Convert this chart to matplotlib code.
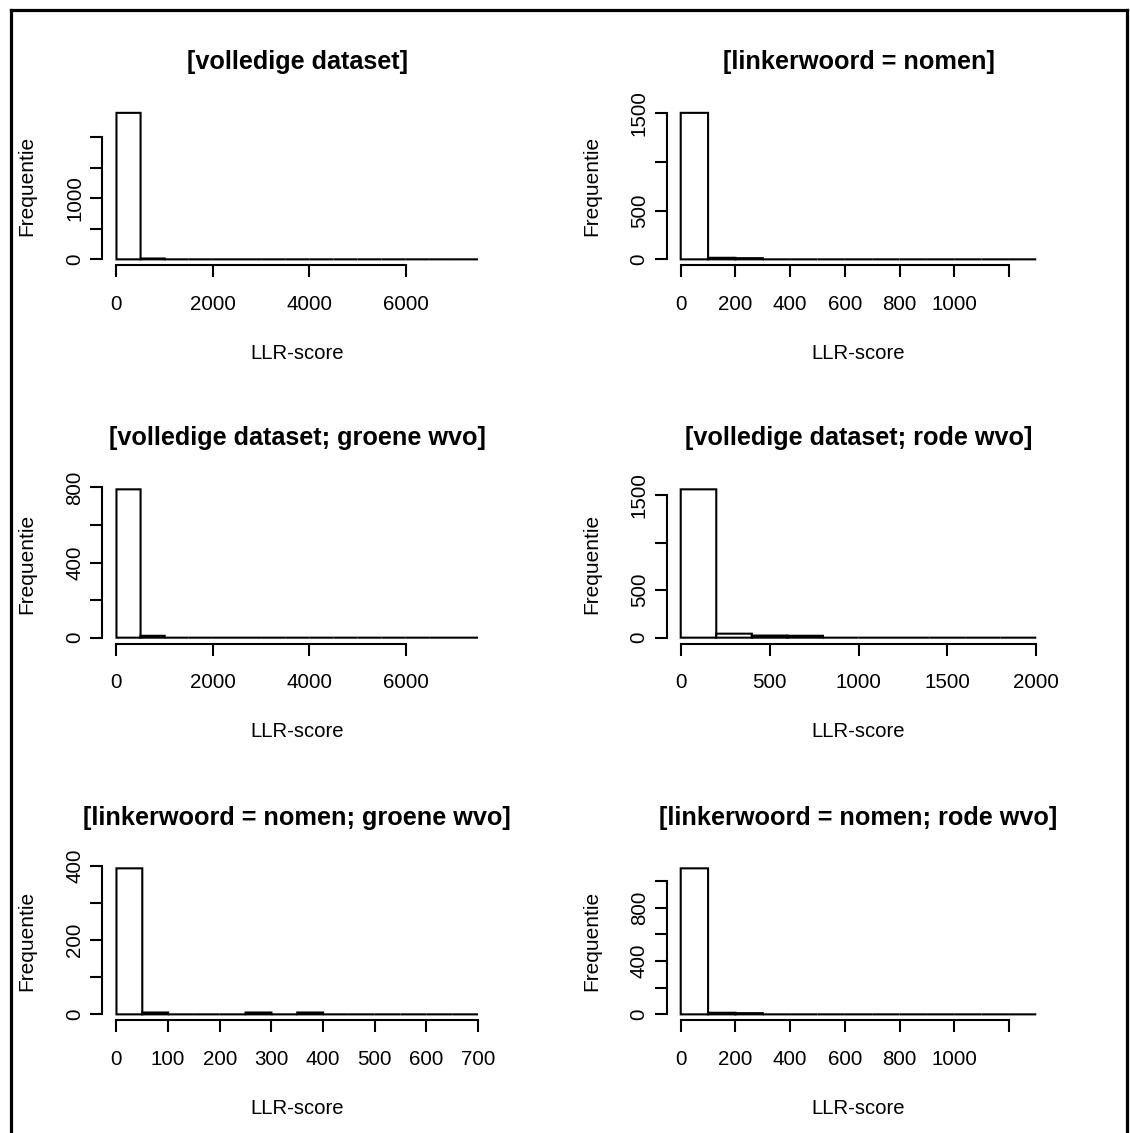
import matplotlib
matplotlib.use("Agg")
import matplotlib.pyplot as plt
from matplotlib.lines import Line2D

plt.rcParams['font.family'] = ['Liberation Sans', 'DejaVu Sans']

# Panel titles (row-major, 3 rows x 2 columns)
titles = [
    "[volledige dataset]",
    "[linkerwoord = nomen]",
    "[volledige dataset; groene wvo]",
    "[volledige dataset; rode wvo]",
    "[linkerwoord = nomen; groene wvo]",
    "[linkerwoord = nomen; rode wvo]",
]

# Histogram break points for each panel
breaks_full = [0, 500, 1000, 1500, 2000, 2500, 3000, 3500, 4000, 4500, 5000, 5500, 6000, 6500, 7000, 7500]
breaks_nomen = [0, 100, 200, 300, 400, 500, 600, 700, 800, 900, 1000, 1100, 1200, 1300]
breaks_full_rood = [0, 200, 400, 600, 800, 1000, 1200, 1400, 1600, 1800, 2000]
breaks_nomen_groen = [0, 50, 100, 150, 200, 250, 300, 350, 400, 450, 500, 550, 600, 650, 700]

# Bin counts (Frequentie) per panel
counts_full = [2400, 14, 0, 0, 0, 0, 0, 0, 0, 0, 0, 0, 0, 0, 0]
counts_nomen = [1505, 16, 12, 0, 0, 0, 0, 0, 0, 0, 0, 0, 0]
counts_full_groen = [790, 10, 0, 0, 0, 0, 0, 0, 0, 0, 0, 0, 0, 0, 0]
counts_full_rood = [1560, 42, 22, 20, 0, 0, 0, 0, 0, 0]
counts_nomen_groen = [394, 5, 0, 0, 0, 5, 0, 5, 0, 0, 0, 0, 0, 0]
counts_nomen_rood = [1095, 12, 9, 0, 0, 0, 0, 0, 0, 0, 0, 0, 0]

# Axis ticks and the labels printed at them ('' = tick without label)
xticks_full = [0, 2000, 4000, 6000]
xlabels_full = ["0", "2000", "4000", "6000"]
xticks_nomen = [0, 200, 400, 600, 800, 1000, 1200]
xlabels_nomen = ["0", "200", "400", "600", "800", "1000", ""]
xticks_rood = [0, 500, 1000, 1500, 2000]
xlabels_rood = ["0", "500", "1000", "1500", "2000"]
xticks_nomen_groen = [0, 100, 200, 300, 400, 500, 600, 700]
xlabels_nomen_groen = ["0", "100", "200", "300", "400", "500", "600", "700"]

yticks = [
    [0, 500, 1000, 1500, 2000],
    [0, 500, 1000, 1500],
    [0, 200, 400, 600, 800],
    [0, 500, 1000, 1500],
    [0, 100, 200, 300, 400],
    [0, 200, 400, 600, 800, 1000],
]
ylabels = [
    ["0", "", "1000", "", ""],
    ["0", "500", "", "1500"],
    ["0", "", "400", "", "800"],
    ["0", "500", "", "1500"],
    ["0", "", "200", "", "400"],
    ["0", "", "400", "", "800", ""],
]

panels = [
    (breaks_full, counts_full, xticks_full, xlabels_full),
    (breaks_nomen, counts_nomen, xticks_nomen, xlabels_nomen),
    (breaks_full, counts_full_groen, xticks_full, xlabels_full),
    (breaks_full_rood, counts_full_rood, xticks_rood, xlabels_rood),
    (breaks_nomen_groen, counts_nomen_groen, xticks_nomen_groen, xlabels_nomen_groen),
    (breaks_nomen, counts_nomen_rood, xticks_nomen, xlabels_nomen),
]

W, H = 1130, 1133
fig = plt.figure(figsize=(W / 100, H / 100), dpi=100)
fig.patch.set_facecolor("white")

# plot regions in pixels: (left, right) per column, (top, bottom) per row
cols = [(102, 492.5), (666.5, 1050.5)]
rows = [(107, 265.2), (483.4, 643.6), (862.5, 1020.2)]

LW = 1.5
for i, (brk, cnt, xt, xl) in enumerate(panels):
    r, c = divmod(i, 2)
    left, right = cols[c]
    top, bottom = rows[r]
    ax = fig.add_axes([left / W, 1 - bottom / H, (right - left) / W, (bottom - top) / H])
    lo, hi = brk[0], brk[-1]
    span = hi - lo
    ax.set_xlim(lo - 0.04 * span, hi + 0.04 * span)
    mx = max(cnt)
    ax.set_ylim(-0.04 * mx, 1.04 * mx)
    widths = [b - a for a, b in zip(brk[:-1], brk[1:])]
    bars = ax.bar(brk[:-1], cnt, width=widths, align="edge", color="white",
                  edgecolor="black", linewidth=LW)
    for p in bars:
        p.set_snap(False)

    for s in ("top", "right"):
        ax.spines[s].set_visible(False)
    for s in ("left", "bottom"):
        ax.spines[s].set_linewidth(LW)
    ax.spines["bottom"].set_bounds(xt[0], xt[-1])
    ax.spines["left"].set_bounds(yticks[i][0], yticks[i][-1])

    ax.set_xticks(xt)
    ax.set_xticklabels(xl)
    ax.set_yticks(yticks[i])
    ax.set_yticklabels(ylabels[i], rotation=90, va="center")
    ax.tick_params(axis="both", direction="out", length=8.3, width=LW, labelsize=14.8)
    ax.tick_params(axis="x", pad=13)
    ax.tick_params(axis="y", pad=4.5)

    cx = (left + right) / 2
    fig.text(cx / W, 1 - (top - 45) / H, titles[i], ha="center", va="center",
             fontsize=18.2, fontweight="bold")
    fig.text(cx / W, 1 - (bottom + 88) / H, "LLR-score", ha="center", va="center",
             fontsize=14.6)
    fig.text((left - 75) / W, 1 - ((top + bottom) / 2) / H, "Frequentie",
             ha="center", va="center", rotation=90, fontsize=15)

# outer frame
frame_kw = dict(color="black", linewidth=2.3, transform=fig.transFigure)
fig.add_artist(Line2D([11 / W, 11 / W], [0, 1 - 10 / H], **frame_kw))
fig.add_artist(Line2D([11 / W, 1127 / W], [1 - 10 / H, 1 - 10 / H], **frame_kw))
fig.add_artist(Line2D([1127 / W, 1127 / W], [0, 1 - 10 / H], **frame_kw))

fig.savefig("out.png", dpi=100, facecolor="white")
